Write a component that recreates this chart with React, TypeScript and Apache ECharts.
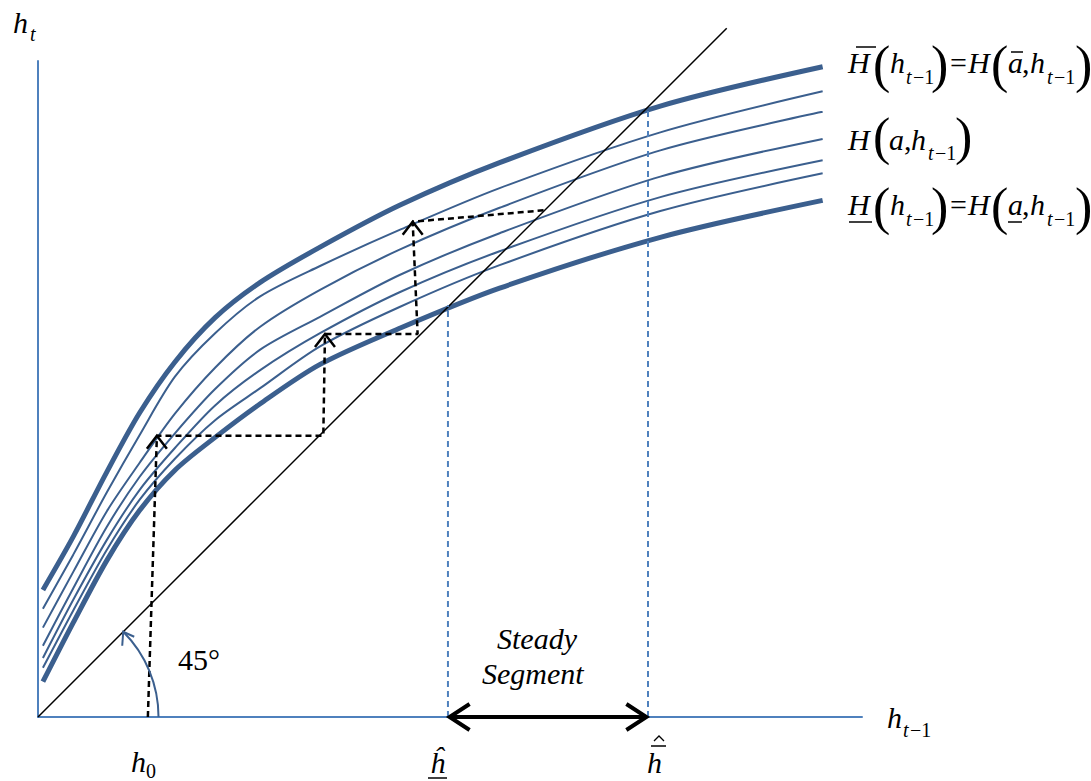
import React, { useEffect, useRef } from "react";
import * as echarts from "echarts";

// ---- data (chart units: h_{t-1} on x, h_t on y) ----
const xs = [0.6, 4.3, 8.4, 12.4, 16.7, 21.6, 27.1, 34.4, 44.1, 56.3, 75.9, 95.7];
const hUpper = [15.5, 22.0, 29.9, 37.1, 43.3, 48.7, 53.0, 57.3, 62.4, 67.6, 74.5, 79.3];
const hMid1 = [13.2, 19.8, 27.4, 34.4, 41.5, 46.8, 51.3, 55.0, 59.4, 64.5, 71.3, 76.3];
const hMid2 = [10.9, 17.7, 25.1, 31.0, 37.0, 42.6, 47.6, 52.1, 57.0, 62.1, 69.1, 73.8];
const hMid3 = [8.7, 15.7, 23.2, 29.3, 34.6, 40.0, 44.8, 48.8, 53.9, 59.0, 65.9, 70.5];
const hMid4 = [7.2, 14.3, 21.6, 27.7, 32.8, 38.0, 42.3, 46.8, 51.8, 56.8, 63.4, 67.9];
const hMid5 = [6.0, 13.0, 20.4, 26.5, 31.5, 36.2, 40.1, 45.2, 50.0, 55.1, 61.7, 66.3];
const hLower = [4.3, 11.5, 19.1, 25.2, 30.1, 34.1, 38.2, 43.0, 47.4, 52.3, 58.5, 63.0];

const diagonal = [[0, 0], [84, 84]];
const cobweb = [
  [13.4, 0], [14.5, 34.3], [34.8, 34.3], [35.0, 46.7],
  [46.3, 46.7], [45.7, 60.4], [61.8, 61.8],
];
const cobwebTips = [[14.5, 34.3], [35.0, 46.7], [45.7, 60.4]];
const hHatLow = [50.0, 50.2];   // x, height of dashed guide
const hHatHigh = [74.4, 74.4];
const steadyRange = [50.2, 74.2];
const angleRadius = 14.7;

const CURVE = "#3b5f8e";
const AXIS = "#4f81bd";
const SERIF = "Liberation Serif";

// text placed by its baseline (default top alignment: baseline ≈ y + 0.8375 * size)
function txt(text: string, x: number, baseline: number, size: number, italic = false) {
  const style: any = {
    text,
    x,
    y: baseline - 0.8375 * size,
    fontSize: size,
    fontFamily: SERIF,
    fill: "#000",
  };
  if (italic) style.fontStyle = "italic";
  return { type: "text", style };
}
function paren(text: string, x: number, centerY: number) {
  return txt(text, x, centerY + 0.255 * 52, 52, false);
}
function seg(x1: number, y1: number, x2: number, y2: number, w = 1.5) {
  return { type: "line", shape: { x1, y1, x2, y2 }, style: { stroke: "#000", lineWidth: w } };
}
function hat(cx: number, y: number) {
  return {
    type: "polyline",
    shape: { points: [[cx - 5, y + 5], [cx, y], [cx + 5, y + 5]] },
    style: { stroke: "#000", lineWidth: 1.3, fill: "none" },
  };
}

function subT(x: number, baseline: number) {
  return [txt("t", x, baseline, 20, true), txt("\u22121", x + 7, baseline, 20, false)];
}

function buildGraphic() {
  const g: any[] = [];
  // axis titles
  g.push(txt("h", 13, 33, 30, true), txt("t", 30, 41, 20, true));
  g.push(txt("h", 887, 728, 30, true), ...subT(903, 737));
  // x markers
  g.push(txt("h", 131, 772, 30, true), txt("0", 146, 778, 20));
  g.push(txt("\u0125", 430, 773, 30, true), seg(428, 778, 447, 778, 1.5));
  g.push(txt("h", 647, 773, 30, true), seg(651, 746, 666, 746, 1.5), hat(659, 736));
  // angle
  g.push(txt("45\u00b0", 178, 670, 30));
  // steady segment
  g.push(txt("Steady", 497, 649, 30, true), txt("Segment", 482, 684, 30, true));

  // label 1: H̄(h_{t-1}) = H(ā, h_{t-1})
  const b1 = 73, s1 = 84, p1 = 69;
  g.push(txt("H", 848, b1, 30, true), seg(856, 47, 876, 47, 1.5));
  g.push(paren("(", 873, p1), txt("h", 890, b1, 30, true), ...subT(906, s1), paren(")", 931, p1));
  g.push(txt("=", 950, b1, 30));
  g.push(txt("H", 968, b1, 30, true), paren("(", 991, p1));
  g.push(txt("a", 1008, b1, 30, true), seg(1011, 52, 1023, 52, 1.5));
  g.push(txt(",", 1022, b1, 30), txt("h", 1030, b1, 30, true), ...subT(1047, s1), paren(")", 1075, p1));

  // label 2: H(a, h_{t-1})
  const b2 = 150, s2 = 160, p2 = 141;
  g.push(txt("H", 848, b2, 30, true), paren("(", 873, p2), txt("a", 889, b2, 30, true));
  g.push(txt(",", 904, b2, 30), txt("h", 911, b2, 30, true), ...subT(928, s2), paren(")", 955, p2));

  // label 3: H̲(h_{t-1}) = H(a̲, h_{t-1})
  const b3 = 215, s3 = 226, p3 = 211;
  g.push(txt("H", 848, b3, 30, true), seg(849, 222, 872, 222, 1.5));
  g.push(paren("(", 873, p3), txt("h", 890, b3, 30, true), ...subT(906, s3), paren(")", 931, p3));
  g.push(txt("=", 950, b3, 30));
  g.push(txt("H", 968, b3, 30, true), paren("(", 991, p3));
  g.push(txt("a", 1008, b3, 30, true), seg(1008, 222, 1022, 222, 1.5));
  g.push(txt(",", 1022, b3, 30), txt("h", 1030, b3, 30, true), ...subT(1047, s3), paren(")", 1075, p3));
  return g;
}

const ARMS: Record<number, number[][]> = {
  0: [[-10, 13], [0, 0], [10, 13]],
  1: [[20, -13], [0, 0], [20, 13]],
  2: [[-20, -13], [0, 0], [-20, 13]],
  3: [[-1, 14], [0, 0], [11, 5]],
};

export default function App() {
  const ref = useRef<HTMLDivElement>(null);
  useEffect(() => {
    if (!ref.current) return;
    document.body.style.margin = "0";
    document.body.style.fontFamily = SERIF;
    const chart = echarts.init(ref.current, undefined, { renderer: "svg" });
    const curves = [hUpper, hMid1, hMid2, hMid3, hMid4, hMid5, hLower];
    const curveSeries = curves.map((ys, i) => ({
      type: "line",
      data: xs.map((x, j) => [x, ys[j]]),
      smooth: 0.3,
      showSymbol: false,
      symbol: "none",
      silent: true,
      z: 2,
      lineStyle: { color: CURVE, width: i === 0 || i === curves.length - 1 ? 5 : 2 },
    }));
    const tips = [
      ...cobwebTips.map((p) => [p[0], p[1], 0]),
      [steadyRange[0], 0, 1],
      [steadyRange[1], 0, 2],
      [angleRadius * Math.SQRT1_2, angleRadius * Math.SQRT1_2, 3],
    ];
    const option: any = {
      animation: false,
      textStyle: { fontFamily: SERIF },
      grid: { left: 38, top: 61, width: 824, height: 656 },
      xAxis: {
        type: "value", min: 0, max: 100.5,
        axisLine: { show: true, lineStyle: { color: AXIS, width: 2 } },
        axisTick: { show: false }, axisLabel: { show: false }, splitLine: { show: false },
      },
      yAxis: {
        type: "value", min: 0, max: 80,
        axisLine: { show: true, lineStyle: { color: AXIS, width: 2 } },
        axisTick: { show: false }, axisLabel: { show: false }, splitLine: { show: false },
      },
      series: [
        ...curveSeries,
        {
          type: "line", data: diagonal, showSymbol: false, symbol: "none", clip: false, silent: true, z: 3,
          lineStyle: { color: "#000", width: 1.5 },
        },
        {
          type: "line", data: [[hHatLow[0], 0], [hHatLow[0], hHatLow[1]]], showSymbol: false, symbol: "none", silent: true, z: 3,
          lineStyle: { color: AXIS, width: 2, type: [6, 4] },
        },
        {
          type: "line", data: [[hHatHigh[0], 0], [hHatHigh[0], hHatHigh[1]]], showSymbol: false, symbol: "none", silent: true, z: 3,
          lineStyle: { color: AXIS, width: 2, type: [6, 4] },
        },
        {
          type: "line", data: cobweb, showSymbol: false, symbol: "none", silent: true, z: 4, clip: false,
          lineStyle: { color: "#000", width: 2.5, type: [6, 4] },
        },
        {
          type: "line", data: [[steadyRange[0], 0], [steadyRange[1], 0]], showSymbol: false, symbol: "none", silent: true, z: 5, clip: false,
          lineStyle: { color: "#000", width: 4 },
        },
        {
          type: "custom", z: 6, silent: true, clip: false,
          data: [[0, 0, angleRadius]],
          renderItem: (params: any, api: any) => {
            const c = api.coord([api.value(0), api.value(1)]);
            const r = api.size([api.value(2), 0])[0];
            return {
              type: "arc",
              shape: { cx: c[0], cy: c[1], r, startAngle: 0, endAngle: -Math.PI / 4, clockwise: false },
              style: { stroke: CURVE, lineWidth: 2, fill: "none" },
            };
          },
        },
        {
          type: "custom", z: 6, silent: true, clip: false,
          data: tips,
          renderItem: (params: any, api: any) => {
            const p = api.coord([api.value(0), api.value(1)]);
            const kind = api.value(2);
            const arms = ARMS[kind];
            const stroke = kind === 3 ? CURVE : "#000";
            const lw = kind === 3 ? 2 : kind === 0 ? 2.5 : 4;
            return {
              type: "polyline",
              shape: { points: arms.map((a) => [p[0] + a[0], p[1] + a[1]]) },
              style: { stroke, lineWidth: lw, fill: "none", lineJoin: "miter" },
            };
          },
        },
      ],
      graphic: buildGraphic(),
    };
    chart.setOption(option);
    return () => chart.dispose();
  }, []);
  return (
    <div style={{ position: "relative" }}>
      <div ref={ref} style={{ width: 1091, height: 781, background: "#fff" }} />
      <span
        aria-hidden="true"
        style={{ position: "absolute", left: 0, top: 0, fontFamily: SERIF, fontSize: 30, fontStyle: "italic", color: "transparent", pointerEvents: "none" }}
      >
        {"\u00a0"}
      </span>
    </div>
  );
}
